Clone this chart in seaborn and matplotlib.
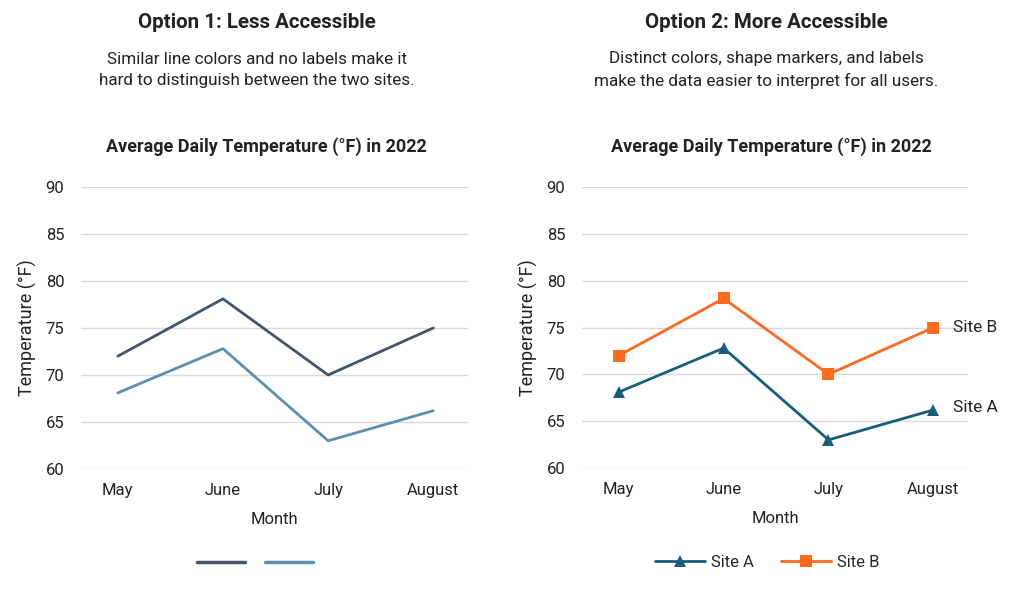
import matplotlib
matplotlib.use("Agg")
import matplotlib.pyplot as plt
import seaborn as sns
import pandas as pd
from matplotlib.lines import Line2D

months = ["May", "June", "July", "August"]
site_a = [68.1, 72.8, 63.0, 66.2]
site_b = [72.0, 78.1, 70.0, 75.0]
yticks = [60, 65, 70, 75, 80, 85, 90]

sns.set_theme(style="white")
plt.rcParams['font.family'] = ['Roboto', 'DejaVu Sans']

df = pd.DataFrame({
    "Month": months * 2,
    "x": list(range(len(months))) * 2,
    "Temp": site_a + site_b,
    "Site": ["Site A"] * len(months) + ["Site B"] * len(months),
})

fig = plt.figure(figsize=(10.24, 6.1), dpi=100)
fig.patch.set_facecolor("white")

ax1 = fig.add_axes([81/1024, 1 - 469/610, 387/1024, 282/610])
ax2 = fig.add_axes([582/1024, 1 - 468/610, 386/1024, 281/610])

txt = "#222222"
grid = "#d9d9d9"
fs = 12

def style(ax):
    ax.set_ylim(60, 90)
    ax.set_xlim(-0.35, 3.33)
    ax.set_yticks(yticks)
    ax.set_xticks(range(len(months)))
    ax.set_xticklabels(months)
    for s in ax.spines.values():
        s.set_visible(False)
    ax.yaxis.grid(True, color=grid, linewidth=1)
    ax.xaxis.grid(False)
    ax.set_axisbelow(True)
    ax.tick_params(axis="y", length=0, pad=12, labelsize=fs, labelcolor=txt)
    ax.tick_params(axis="x", length=0, pad=10, labelsize=fs, labelcolor=txt)
    ax.set_xlabel("Month", fontsize=fs, color=txt, labelpad=10)
    ax.set_ylabel("Temperature (°F)", fontsize=13, color=txt, labelpad=6)

# Option 1
sns.lineplot(data=df, x="x", y="Temp", hue="Site",
             palette={"Site A": "#5a8fb0", "Site B": "#44546a"},
             linewidth=2, ax=ax1, legend=False)
style(ax1)
h1 = [Line2D([], [], color="#44546a", lw=2.5), Line2D([], [], color="#5a8fb0", lw=2.5)]
ax1.legend(h1, ["", ""], loc="center", bbox_to_anchor=(0.45, -0.335), ncol=2,
           frameon=False, handlelength=2.9, columnspacing=1.2, handletextpad=0,
           fontsize=fs)

# Option 2
pal2 = {"Site A": "#175e7e", "Site B": "#ff6a1f"}
sns.lineplot(data=df, x="x", y="Temp", hue="Site", style="Site",
             markers={"Site A": "^", "Site B": "s"}, dashes=False,
             palette=pal2, linewidth=2, markersize=9, markeredgewidth=0,
             ax=ax2, legend=False)
style(ax2)
ax2.text(3.19, site_b[-1], "Site B", fontsize=12.5, color=txt, va="center", ha="left")
ax2.text(3.19, site_a[-1] + 0.3, "Site A", fontsize=12.5, color=txt, va="center", ha="left")
h2 = [Line2D([], [], color=pal2["Site A"], lw=2, marker="^", ms=9, mew=0),
      Line2D([], [], color=pal2["Site B"], lw=2, marker="s", ms=9, mew=0)]
ax2.legend(h2, ["Site A", "Site B"], loc="center", bbox_to_anchor=(0.48, -0.335), ncol=2,
           frameon=False, handlelength=3.0, columnspacing=1.6, handletextpad=0.4,
           fontsize=fs)

# Chart titles
for cx in (266/1024, 771/1024):
    fig.text(cx, 1 - 147/610, "Average Daily Temperature (°F) in 2022", fontsize=13,
             fontweight="bold", color=txt, ha="center", va="center")

# Headers
for cx, head, sub in [(257/1024, "Option 1: Less Accessible",
                       "Similar line colors and no labels make it\nhard to distinguish between the two sites."),
                      (766/1024, "Option 2: More Accessible",
                       "Distinct colors, shape markers, and labels\nmake the data easier to interpret for all users.")]:
    fig.text(cx, 1 - 23/610, head, fontsize=14.8, fontweight="bold", color=txt,
             ha="center", va="center")
    fig.text(cx, 1 - 70/610, sub, fontsize=12.3, color=txt, ha="center", va="center",
             linespacing=1.5)

fig.savefig("out.png", dpi=100, facecolor="white")
